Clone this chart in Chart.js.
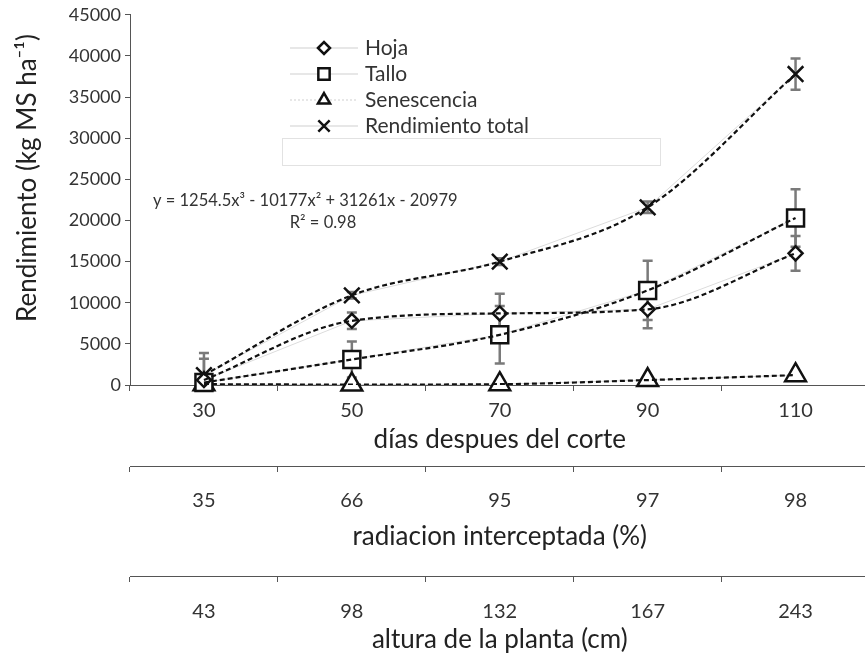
<!DOCTYPE html>
<html>
<head>
<meta charset="utf-8">
<script src="https://cdn.jsdelivr.net/npm/chart.js@4/dist/chart.umd.min.js"></script>
<style>
  html,body{margin:0;padding:0;background:#fff;overflow:hidden;}
  #wrap{width:884px;height:655px;}
</style>
</head>
<body>
<div id="wrap"><canvas id="rend"></canvas></div>
<script>
// categories and extra axis labels
const dias = ['30','50','70','90','110'];
const radiacion = ['35','66','95','97','98'];
const altura = ['43','98','132','167','243'];

// yields (kg MS/ha)
const hoja = [600, 7800, 8700, 9200, 16000];
const tallo = [300, 3100, 6100, 11500, 20300];
const senescencia = [100, 50, 100, 600, 1200];
const total = [1200, 10900, 15000, 21600, 37800];

// error bar half-widths
const hojaErr = [2600, 1000, 2400, 2300, 2100];
const talloErr = [400, 2200, 3500, 3600, 3500];
const senErr = [100, 100, 100, 300, 400];
const totalErr = [2700, 400, 400, 700, 1900];

const FONT = 'Lato, "Open Sans", sans-serif';
const txt = '#333';

function series(label, data, err, style, radius){
  return {label, data, err, pointStyle:style, pointRadius:radius, pointHoverRadius:radius,
    pointBackgroundColor:'#fff', pointBorderColor:'#111', pointBorderWidth:2.5,
    borderColor:'#dcdcdc', borderWidth:1, tension:0, clip:false, order:1};
}
function trend(data){
  return {data, trend:true, pointRadius:0, borderColor:'#111', borderWidth:2.2,
    borderDash:[5,3], tension:0.4, cubicInterpolationMode:'monotone', fill:false, order:0};
}

// error bars under the markers
const errorBars = {
  id:'errorBars',
  beforeDatasetsDraw(chart){
    const c = chart.ctx, y = chart.scales.y;
    c.save();
    c.strokeStyle = '#7a7a7a'; c.lineWidth = 2.5;
    chart.data.datasets.forEach((ds,i)=>{
      if(!ds.err) return;
      chart.getDatasetMeta(i).data.forEach((pt,j)=>{
        const top = y.getPixelForValue(ds.data[j]+ds.err[j]);
        const bot = y.getPixelForValue(Math.max(0,ds.data[j]-ds.err[j]));
        c.beginPath();
        c.moveTo(pt.x,top); c.lineTo(pt.x,bot);
        c.moveTo(pt.x-5,top); c.lineTo(pt.x+5,top);
        c.moveTo(pt.x-5,bot); c.lineTo(pt.x+5,bot);
        c.stroke();
      });
    });
    c.restore();
  }
};

// legend box, regression text, y title
const extras = {
  id:'extras',
  afterDraw(chart){
    const c = chart.ctx;
    c.save();
    const rows = chart.data.datasets.filter(d=>!d.trend);
    rows.forEach((ds,i)=>{
      const yy = 48 + i*26;
      c.strokeStyle = '#cfcfcf'; c.lineWidth = 1;
      c.setLineDash(ds.label==='Senescencia'?[2,2]:[]);
      c.beginPath(); c.moveTo(290,yy); c.lineTo(358,yy); c.stroke();
      c.setLineDash([]);
      c.fillStyle = '#fff'; c.strokeStyle = '#111'; c.lineWidth = 2.5;
      const r = {Tallo:8, Hoja:6, Senescencia:7}[ds.label] || 8;
      Chart.helpers.drawPoint(c,{pointStyle:ds.pointStyle, radius:r, borderWidth:2.5}, 324, yy);
      c.fillStyle = txt; c.font = '21px '+FONT; c.textBaseline='middle'; c.textAlign='left';
      c.fillText(ds.label, 365, yy);
    });
    c.strokeStyle = '#e2e2e2'; c.lineWidth = 1;
    c.strokeRect(282.5,138.5,378,27);
    c.fillStyle = txt; c.font = '16.5px '+FONT; c.textAlign='left';
    c.fillText('y = 1254.5x\u00b3 - 10177x\u00b2 + 31261x - 20979', 153, 201);
    c.textAlign='center';
    c.fillText('R\u00b2 = 0.98', 323, 223);
    // y axis title
    c.translate(28,178); c.rotate(-Math.PI/2);
    c.fillStyle = '#222'; c.font = '26px '+FONT;
    c.fillText('Rendimiento (kg MS ha\u207b\u00b9)', 0, 0);
    c.restore();
  }
};

const tickFont = {family:FONT, size:20};
const titleFont = {family:FONT, size:26};

new Chart(document.getElementById('rend'),{
  type:'line',
  data:{
    labels:dias,
    datasets:[
      series('Hoja', hoja, hojaErr, 'rectRot', 7),
      series('Tallo', tallo, talloErr, 'rect', 12),
      series('Senescencia', senescencia, senErr, 'triangle', 12),
      series('Rendimiento total', total, totalErr, 'crossRot', 11),
      trend(hoja), trend(tallo), trend(senescencia), trend(total)
    ]
  },
  options:{
    responsive:true, maintainAspectRatio:false, animation:false,
    layout:{padding:{top:14,right:0,left:0,bottom:0}},
    plugins:{legend:{display:false}, tooltip:{enabled:false}},
    scales:{
      y:{min:0,max:45000,
        ticks:{stepSize:5000,color:txt,font:{family:FONT,size:18},padding:4,callback:v=>String(v)},
        grid:{display:true,drawOnChartArea:false,tickLength:5,color:'#555'},
        border:{color:'#555',width:1},
        afterFit(s){s.width=130;}
      },
      x:{position:'bottom',offset:true,
        ticks:{color:txt,font:tickFont,padding:8},
        grid:{display:true,drawOnChartArea:false,offset:true,tickLength:6,color:'#555'},
        border:{color:'#555'},
        title:{display:true,text:'días despues del corte',color:'#222',font:titleFont,padding:{top:4,bottom:11}},
        afterFit(s){s.height=81;}
      },
      x2:{type:'category',position:'bottom',labels:radiacion,offset:true,
        ticks:{color:txt,font:tickFont,padding:17},
        grid:{display:true,drawOnChartArea:false,offset:true,tickLength:6,color:'#555'},
        border:{color:'#555'},
        title:{display:true,text:'radiacion interceptada (%)',color:'#222',font:titleFont,padding:{top:4,bottom:24}},
        afterFit(s){s.height=110;}
      },
      x3:{type:'category',position:'bottom',labels:altura,offset:true,
        ticks:{color:txt,font:tickFont,padding:18},
        grid:{display:true,drawOnChartArea:false,offset:true,tickLength:6,color:'#555'},
        border:{color:'#555'},
        title:{display:true,text:'altura de la planta (cm)',color:'#222',font:titleFont,padding:{top:4,bottom:0}},
        afterFit(s){s.height=79;}
      }
    }
  },
  plugins:[errorBars, extras]
});
</script>
</body>
</html>
